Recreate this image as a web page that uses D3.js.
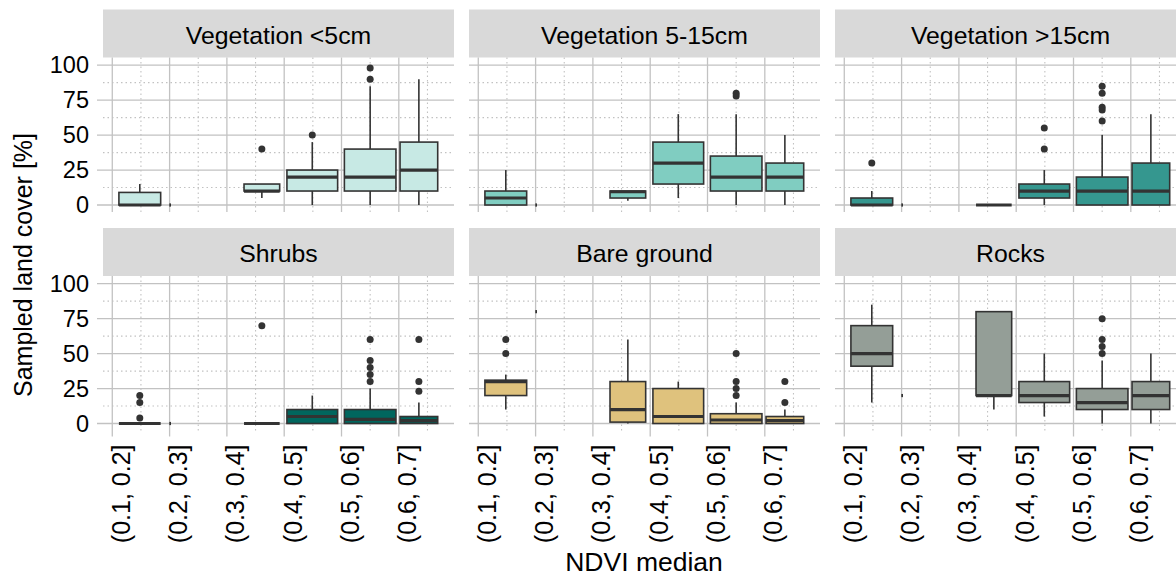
<!DOCTYPE html>
<html>
<head>
<meta charset="utf-8">
<script src="https://cdn.jsdelivr.net/npm/d3@7"></script>
<style>
	body { margin: 0; background: #fff; }
	svg text { font-family: "Liberation Sans", Arial, sans-serif; fill: #000; }
</style>
</head>
<body>
<svg id="chart" width="1176" height="576"></svg>
<script>
// NDVI bins (x axis): labels sit at the lower break, boxes at the midpoint of the NDVI range
const binLabels = ["(0.1, 0.2]", "(0.2, 0.3]", "(0.3, 0.4]", "(0.4, 0.5]", "(0.5, 0.6]", "(0.6, 0.7]"];
const binBreaks = [0.1, 0.2, 0.3, 0.4, 0.5, 0.6];
const binMinor = [0.15, 0.25, 0.35, 0.45, 0.55, 0.65];
const binCenters = [0.148, 0.201, 0.361, 0.449, 0.55, 0.635];
const binCounts = [590, 1, 430, 870, 900, 480];

const yTicks = [0, 25, 50, 75, 100];
const yMinor = [12.5, 37.5, 62.5, 87.5];

const covers = ["Vegetation <5cm", "Vegetation 5-15cm", "Vegetation >15cm", "Shrubs", "Bare ground", "Rocks"];

// [lower whisker, q1, median, q3, upper whisker] per bin
const vegLow = [[0, 0, 0, 9, 15], [0, 0, 0, 0, 0], [5, 10, 10, 15, 15], [0, 10, 20, 25, 45], [0, 10, 20, 40, 85], [0, 10, 25, 45, 90]];
const vegLowOut = [[], [], [40], [50], [90, 98], []];

const vegMid = [[0, 0, 5, 10, 25], [0, 0, 0, 0, 0], [3, 5, 9.5, 10, 10], [5, 15, 30, 45, 65], [0, 10, 20, 35, 65], [0, 10, 20, 30, 50]];
const vegMidOut = [[], [], [], [], [78, 80], []];

const vegHigh = [[0, 0, 0, 5, 10], [0, 0, 0, 0, 0], [0, 0, 0, 0, 0], [0, 5, 10, 15, 25], [0, 0, 10, 20, 50], [0, 0, 10, 30, 65]];
const vegHighOut = [[30], [], [], [40, 55], [60, 68, 70, 80, 85], []];

const shrubs = [[0, 0, 0, 0, 0], [0, 0, 0, 0, 0], [0, 0, 0, 0, 0], [0, 0, 5, 10, 20], [0, 0, 3, 10, 25], [0, 0, 2, 5, 15]];
const shrubsOut = [[4, 15, 20], [], [70], [], [30, 35, 40, 45, 60], [23, 30, 60]];

const bare = [[10, 20, 30, 31, 35], [80, 80, 80, 80, 80], [0, 1, 10, 30, 60], [0, 0, 5, 25, 30], [0, 0, 2.5, 7, 15], [0, 0, 2, 5, 10]];
const bareOut = [[50, 60], [], [], [], [20, 25, 30, 50], [15, 30]];

const rocks = [[15, 41, 50, 70, 85], [20, 20, 20, 20, 20], [10, 20, 20, 80, 80], [5, 15, 20, 30, 50], [0, 10, 15, 25, 45], [0, 10, 20, 30, 50]];
const rocksOut = [[], [], [], [], [50, 55, 60, 75], []];

const coverStats = [vegLow, vegMid, vegHigh, shrubs, bare, rocks];
const coverOutliers = [vegLowOut, vegMidOut, vegHighOut, shrubsOut, bareOut, rocksOut];
const coverColors = ["#c7e9e4", "#80cdc1", "#35978f", "#01665e", "#dfc27d", "#949e97"];

// layout
const colX = [103, 469, 835];
const rowTop = [9.5, 228];
const panelW = 351, stripH = 48, panelH = 154.5;
const gridCol = "#c2c2c2", ink = "#333333";
const maxBoxW = 0.09;
const maxCount = d3.max(binCounts);

const svg = d3.select("#chart");

const x = d3.scaleLinear().domain([0.0838, 0.6963]).range([0, panelW]);
const y = d3.scaleLinear().domain([-5, 105.5]).range([panelH, 0]);

covers.forEach((name, i) => {
	const col = i % 3, row = Math.floor(i / 3);
	const g = svg.append("g").attr("transform", `translate(${colX[col]},${rowTop[row]})`);

	g.append("rect")
		.attr("width", panelW).attr("height", stripH)
		.attr("fill", "#d9d9d9");
	g.append("text")
		.attr("x", panelW / 2).attr("y", 34)
		.attr("text-anchor", "middle")
		.style("font-size", "24.8px")
		.text(name);

	const p = g.append("g").attr("transform", `translate(0,${stripH})`);

	// minor grid, dotted
	p.selectAll("line.ymin").data(yMinor).join("line")
		.attr("x1", 0).attr("x2", panelW)
		.attr("y1", d => y(d)).attr("y2", d => y(d))
		.attr("stroke", gridCol).attr("stroke-width", 1.1)
		.attr("stroke-dasharray", "1.5,3");
	p.selectAll("line.xmin").data(binMinor).join("line")
		.attr("y1", 0).attr("y2", panelH)
		.attr("x1", d => x(d)).attr("x2", d => x(d))
		.attr("stroke", gridCol).attr("stroke-width", 1.1)
		.attr("stroke-dasharray", "1.5,3");

	// major grid
	p.append("g").selectAll("line").data(yTicks).join("line")
		.attr("x1", col === 0 ? -6 : 0).attr("x2", panelW)
		.attr("y1", d => y(d)).attr("y2", d => y(d))
		.attr("stroke", gridCol).attr("stroke-width", 1.3);
	p.append("g").selectAll("line").data(binBreaks).join("line")
		.attr("y1", 0).attr("y2", row === 1 ? panelH + 6 : panelH)
		.attr("x1", d => x(d)).attr("x2", d => x(d))
		.attr("stroke", gridCol).attr("stroke-width", 1.3);

	// axes labels
	if (col === 0) {
		const ax = p.append("g").call(d3.axisLeft(y).tickValues(yTicks).tickSize(0).tickPadding(14));
		ax.select(".domain").remove();
		ax.selectAll("text").style("font-size", "23.5px").attr("fill", "#000");
	}
	if (row === 1) {
		p.append("g").selectAll("text").data(binLabels).join("text")
			.attr("transform", (d, j) => `translate(${x(binBreaks[j]) + 17.5},${panelH + 14}) rotate(-90)`)
			.attr("text-anchor", "end")
			.style("font-size", "25px")
			.text(d => d);
	}

	// boxes
	const stats = coverStats[i];
	const fill = coverColors[i];
	const boxes = p.append("g").selectAll("g").data(stats).join("g");
	boxes.each(function (s, j) {
		const b = d3.select(this);
		const cx = x(binCenters[j]);
		const half = (x(maxBoxW * Math.sqrt(binCounts[j] / maxCount)) - x(0)) / 2;
		b.append("line")
			.attr("x1", cx).attr("x2", cx)
			.attr("y1", y(s[0])).attr("y2", y(s[1]))
			.attr("stroke", ink).attr("stroke-width", 1.6);
		b.append("line")
			.attr("x1", cx).attr("x2", cx)
			.attr("y1", y(s[3])).attr("y2", y(s[4]))
			.attr("stroke", ink).attr("stroke-width", 1.6);
		b.append("rect")
			.attr("x", cx - half).attr("width", 2 * half)
			.attr("y", y(s[3])).attr("height", y(s[1]) - y(s[3]))
			.attr("fill", fill).attr("stroke", ink).attr("stroke-width", 1.6);
		b.append("line")
			.attr("x1", cx - half).attr("x2", cx + half)
			.attr("y1", y(s[2])).attr("y2", y(s[2]))
			.attr("stroke", ink).attr("stroke-width", 3.2);
		b.selectAll("circle").data(coverOutliers[i][j]).join("circle")
			.attr("cx", cx).attr("cy", d => y(d)).attr("r", 3.5)
			.attr("fill", ink);
	});
});

// axis titles
svg.append("text")
	.attr("transform", "translate(32,265) rotate(-90)")
	.attr("text-anchor", "middle")
	.style("font-size", "25px")
	.text("Sampled land cover [%]");
svg.append("text")
	.attr("x", 644).attr("y", 571)
	.attr("text-anchor", "middle")
	.style("font-size", "26.5px")
	.text("NDVI median");
</script>
</body>
</html>
